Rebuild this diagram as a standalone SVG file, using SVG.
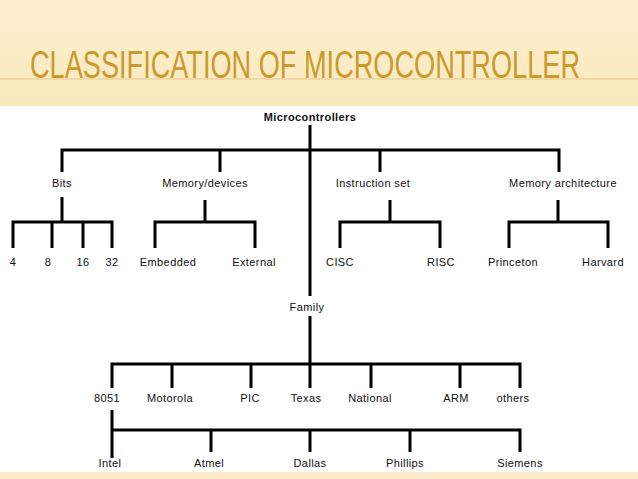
<svg xmlns="http://www.w3.org/2000/svg" width="638" height="479" viewBox="0 0 638 479">
<defs>
<linearGradient id="bg" x1="0" y1="0" x2="0" y2="1">
<stop offset="0" stop-color="#fdf0cf"/><stop offset="1" stop-color="#fbe8bd"/>
</linearGradient>
<style>
.t{font-family:"Liberation Sans",Arial,sans-serif;font-size:11px;letter-spacing:0.4px;fill:#111;text-anchor:middle}
.c{stroke:#000;stroke-width:3;fill:none}
</style>
</defs>
<rect width="638" height="479" fill="#fff"/>
<rect width="638" height="106" fill="url(#bg)"/>
<rect y="472" width="638" height="7" fill="#fbeccb"/>
<line x1="0" y1="79" x2="638" y2="79" stroke="#e6c98a" stroke-width="1"/>
<text x="30" y="78" textLength="550" lengthAdjust="spacingAndGlyphs" style="font-family:'Liberation Sans',Arial,sans-serif;font-size:39px;fill:#c99a2e">CLASSIFICATION OF MICROCONTROLLER</text>
<g id="connectors" class="c">
<path d="M310 125V296M310 316V364"/>
<path d="M62 172V150H559V172M220 150V172M380 150V172"/>
<path d="M62 197V222M13 248V222H112V248M52 222V248M83 222V248"/>
<path d="M205 200V222M155 248V222H255V248"/>
<path d="M390 200V222M340 248V222H440V248"/>
<path d="M558 200V222M509 248V222H608V248"/>
<path d="M112 388V364H520V388M172 364V388M251 364V388M371 364V388M460 364V388M310 364V388"/>
<path d="M112 410V458M112 430H520V452M211 430V452M310 430V452M410 430V452"/>
</g>
<g id="n-root"><text class="t" x="310" y="121" font-weight="bold">Microcontrollers</text></g>
<g id="n-bits"><text class="t" x="62" y="187">Bits</text></g>
<g id="n-mem"><text class="t" x="205" y="187">Memory/devices</text></g>
<g id="n-is"><text class="t" x="373" y="187">Instruction set</text></g>
<g id="n-ma"><text class="t" x="563" y="187">Memory architecture</text></g>
<g id="n-4"><text class="t" x="13" y="266">4</text></g>
<g id="n-8"><text class="t" x="48" y="266">8</text></g>
<g id="n-16"><text class="t" x="83" y="266">16</text></g>
<g id="n-32"><text class="t" x="112" y="266">32</text></g>
<g id="n-emb"><text class="t" x="168" y="266">Embedded</text></g>
<g id="n-ext"><text class="t" x="254" y="266">External</text></g>
<g id="n-cisc"><text class="t" x="340" y="266">CISC</text></g>
<g id="n-risc"><text class="t" x="441" y="266">RISC</text></g>
<g id="n-pri"><text class="t" x="513" y="266">Princeton</text></g>
<g id="n-har"><text class="t" x="603" y="266">Harvard</text></g>
<g id="n-fam"><text class="t" x="307" y="311">Family</text></g>
<g id="n-8051"><text class="t" x="107" y="402">8051</text></g>
<g id="n-mot"><text class="t" x="170" y="402">Motorola</text></g>
<g id="n-pic"><text class="t" x="250" y="402">PIC</text></g>
<g id="n-tex"><text class="t" x="306" y="402">Texas</text></g>
<g id="n-nat"><text class="t" x="370" y="402">National</text></g>
<g id="n-arm"><text class="t" x="456" y="402">ARM</text></g>
<g id="n-oth"><text class="t" x="513" y="402">others</text></g>
<g id="n-int"><text class="t" x="110" y="467">Intel</text></g>
<g id="n-atm"><text class="t" x="209" y="467">Atmel</text></g>
<g id="n-dal"><text class="t" x="310" y="467">Dallas</text></g>
<g id="n-phi"><text class="t" x="405" y="467">Phillips</text></g>
<g id="n-sie"><text class="t" x="520" y="467">Siemens</text></g>
</svg>
